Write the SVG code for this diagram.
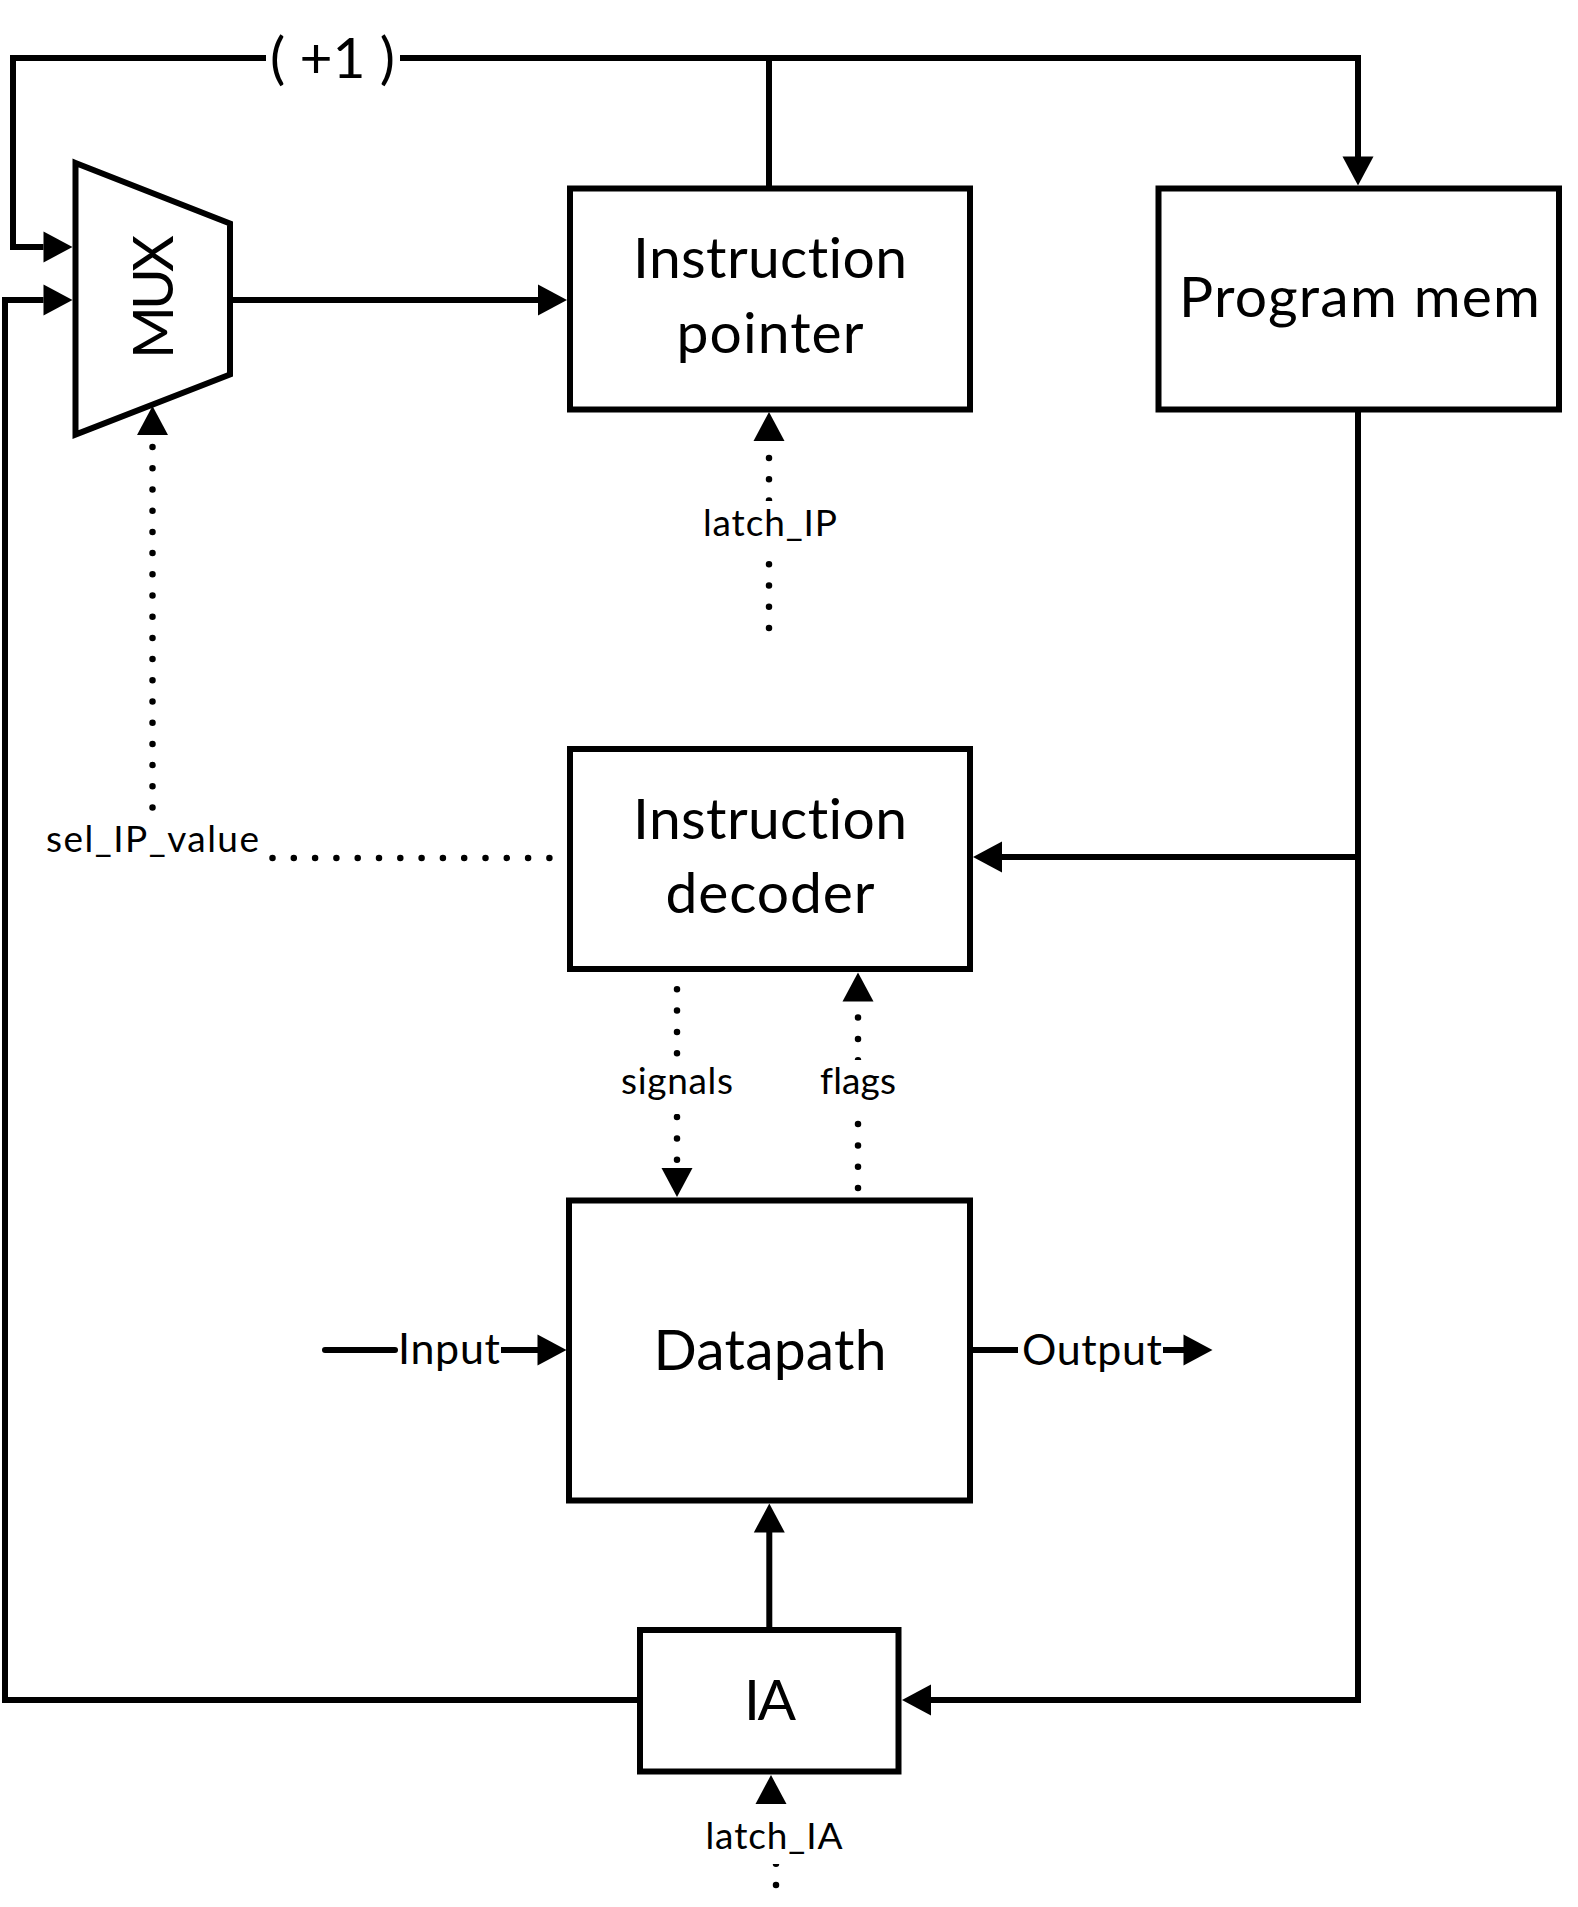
<svg xmlns="http://www.w3.org/2000/svg" xmlns:xlink="http://www.w3.org/1999/xlink" width="1578" height="1907" viewBox="0 0 1578 1907">
<style>
.box{fill:#fff;stroke:#000;stroke-width:6}
.wire{fill:none;stroke:#000;stroke-width:6}
.dot{fill:none;stroke:#000;stroke-width:6.5;stroke-linecap:round;stroke-dasharray:0 21.25}
.mask{fill:#fff;stroke:none}
text{font-family:Lato,"Open Sans","Liberation Sans",sans-serif;fill:#000;font-variant-ligatures:none;font-feature-settings:"liga" 0,"clig" 0}
.big{font-size:57px;text-anchor:middle}
.lbl{font-size:37px;text-anchor:middle}
.io{font-size:43px}
</style>
<defs>
<path id="ah" d="M0,0 L-29,-15.5 L-29,15.5 Z" fill="#000"/>
</defs>
<rect width="1578" height="1907" fill="#fff"/>

<g id="connectors">
  <path class="wire" d="M43.5 247 H13 V58 H266"/>
  <text class="big" x="332.5" y="78" textLength="125">( +1 )</text>
  <path class="wire" d="M400 58 H1358 V157"/>
  <use xlink:href="#ah" transform="translate(1358,185.5) rotate(90)"/>
  <use xlink:href="#ah" transform="translate(72.5,247)"/>
  <path class="wire" d="M769 58 V188.5"/>
  <path class="wire" d="M230 300 H538"/>
  <use xlink:href="#ah" transform="translate(567,300)"/>
  <path class="wire" d="M640 1700 H5 V300 H43.5"/>
  <use xlink:href="#ah" transform="translate(72.5,300)"/>
  <path class="wire" d="M1358 409.5 V1700 H931"/>
  <use xlink:href="#ah" transform="translate(902,1700) rotate(180)"/>
  <path class="wire" d="M1358 857 H1002"/>
  <use xlink:href="#ah" transform="translate(973,857) rotate(180)"/>
  <path class="wire" d="M769.3 1630 V1532"/>
  <use xlink:href="#ah" transform="translate(769.3,1503.5) rotate(-90)"/>
  <path class="wire" d="M325 1350 H395" stroke-linecap="round"/>
  <path class="wire" d="M501 1350 H538"/>
  <use xlink:href="#ah" transform="translate(566.5,1350)"/>
  <text class="io" x="398" y="1364" textLength="102">Input</text>
  <path class="wire" d="M970 1350 H1018"/>
  <path class="wire" d="M1163 1350 H1184"/>
  <use xlink:href="#ah" transform="translate(1212.5,1350)"/>
  <text class="io" x="1022" y="1365" textLength="140">Output</text>

  <path class="dot" d="M152.5 807.5 V436" style="stroke-dasharray:0 21.2"/>
  <use xlink:href="#ah" transform="translate(152.5,406) rotate(-90)"/>
  <path class="dot" d="M272.5 858 H550" style="stroke-dasharray:0 21.3"/>
  <text class="lbl" x="46" y="852" textLength="213" style="text-anchor:start">sel_IP_value</text>

  <path class="dot" d="M769 628 V440"/>
  <rect class="mask" x="700" y="501" width="140" height="58"/>
  <use xlink:href="#ah" transform="translate(769,412) rotate(-90)"/>
  <text class="lbl" x="770" y="535.5" textLength="134">latch_IP</text>

  <path class="dot" d="M677 968 V1168" style="stroke-dasharray:0 21.3"/>
  <use xlink:href="#ah" transform="translate(677,1197) rotate(90)"/>
  <path class="dot" d="M858 1188 V1000" style="stroke-dasharray:0 21.3"/>
  <use xlink:href="#ah" transform="translate(858,972.5) rotate(-90)"/>
  <rect class="mask" x="615" y="1060" width="125" height="54"/>
  <rect class="mask" x="815" y="1060" width="86" height="54"/>
  <text class="lbl" x="677" y="1094" textLength="112">signals</text>
  <text class="lbl" x="858" y="1094" textLength="76">flags</text>

  <path class="dot" d="M776 1885 V1840"/>
  <rect class="mask" x="700" y="1812" width="150" height="52"/>
  <use xlink:href="#ah" transform="translate(771,1775) rotate(-90)"/>
  <text class="lbl" x="774" y="1849" textLength="137">latch_IA</text>
</g>

<g id="mux">
  <polygon class="box" points="75.5,163 230,223.5 230,374.5 75.5,434.5"/>
  <text class="big" transform="translate(173,297) rotate(-90)" textLength="124">MUX</text>
</g>

<g id="instruction-pointer">
  <rect class="box" x="570" y="188.5" width="400" height="221"/>
  <text class="big" x="770" y="278" textLength="274">Instruction</text>
  <text class="big" x="770" y="353" textLength="187">pointer</text>
</g>

<g id="program-mem">
  <rect class="box" x="1158.5" y="188.5" width="400.5" height="221"/>
  <text class="big" x="1359.5" y="317" textLength="361">Program mem</text>
</g>

<g id="instruction-decoder">
  <rect class="box" x="570" y="749" width="400" height="220"/>
  <text class="big" x="770" y="839" textLength="274">Instruction</text>
  <text class="big" x="770" y="913" textLength="209">decoder</text>
</g>

<g id="datapath">
  <rect class="box" x="569" y="1200.5" width="401" height="300"/>
  <text class="big" x="770" y="1369.5" textLength="233">Datapath</text>
</g>

<g id="ia">
  <rect class="box" x="640" y="1630" width="258.5" height="141.5"/>
  <text class="big" x="770" y="1720" textLength="52">IA</text>
</g>
</svg>
